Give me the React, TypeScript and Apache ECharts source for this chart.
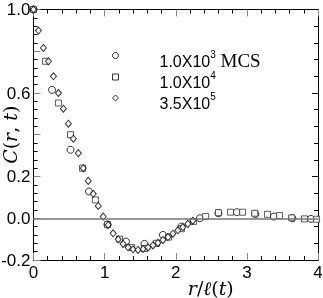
import React, { useEffect, useRef } from "react";
import * as echarts from "echarts";

// 1.0X10^3 MCS (circles)
const circleX = [0, 0.26, 0.52, 0.78, 1.04, 1.3, 1.56, 1.82, 2.08, 2.34, 2.6, 2.86, 3.12, 3.38, 3.64, 3.9];
const circleY = [1.0, 0.615, 0.328, 0.128, -0.03, -0.112, -0.123, -0.08, -0.04, 0.0, 0.024, 0.029, 0.02, 0.008, 0.0, -0.003];

// 1.0X10^4 (squares)
const squareX = [0, 0.17, 0.35, 0.52, 0.69, 0.87, 1.04, 1.21, 1.38, 1.56, 1.73, 1.9, 2.08, 2.25, 2.42, 2.6, 2.77, 2.94, 3.11, 3.29, 3.46, 3.63, 3.81, 3.98];
const squareY = [1.0, 0.752, 0.552, 0.4, 0.24, 0.088, -0.03, -0.1, -0.14, -0.145, -0.12, -0.09, -0.05, -0.015, 0.008, 0.027, 0.029, 0.029, 0.024, 0.019, 0.013, 0.002, -0.003, -0.005];

// 3.5X10^5 (diamonds)
const diamondX = [0, 0.07, 0.14, 0.21, 0.28, 0.35, 0.42, 0.49, 0.56, 0.63, 0.7, 0.77, 0.84, 0.91, 0.98, 1.05, 1.12, 1.19, 1.26, 1.33, 1.4, 1.47, 1.54, 1.61, 1.68, 1.75, 1.82, 1.89, 1.96, 2.03, 2.1, 2.17, 2.24];
const diamondY = [1.0, 0.899, 0.816, 0.752, 0.68, 0.6, 0.525, 0.453, 0.381, 0.312, 0.24, 0.179, 0.117, 0.059, 0.008, -0.032, -0.072, -0.101, -0.123, -0.139, -0.149, -0.152, -0.147, -0.14, -0.13, -0.118, -0.104, -0.09, -0.074, -0.058, -0.042, -0.027, -0.012];

const seriesNames = ["1.0X10³ MCS", "1.0X10⁴", "3.5X10⁵"];
const legendRich: Record<string, string> = {
  "1.0X10³ MCS": "{g|}{a|1.0X10}{s|3}{m| MCS}",
  "1.0X10⁴": "{g|}{a|1.0X10}{s|4}",
  "3.5X10⁵": "{g|}{a|3.5X10}{s|5}",
};
const yLabels = [1.0, 0.6, 0.2, 0.0, -0.2];

export default function App() {
  const ref = useRef<HTMLDivElement>(null);
  useEffect(() => {
    const chart = echarts.init(ref.current!, null, { renderer: "svg" });
    const pair = (xs: number[], ys: number[]) => xs.map((v, i) => [v, ys[i]]);
    const sans = "'Liberation Sans', Arial, sans-serif";
    const serif = "'DejaVu Serif', serif";
    const tickMajor = { inside: true, length: 7, lineStyle: { color: "#888", width: 1 } };
    const tickMinor = { show: true, length: 4, lineStyle: { color: "#000", width: 1 } };
    const line = { show: true, onZero: false, lineStyle: { color: "#000", width: 1 } };
    const mark = { color: "#fff", borderColor: "#000", borderWidth: 1 };
    chart.setOption({
      animation: false,
      grid: { left: 33.5, right: 5, top: 9.5, bottom: 38, containLabel: false, outerBoundsMode: "none" },
      legend: {
        orient: "vertical",
        left: 112,
        top: 41.5,
        itemWidth: 6,
        itemHeight: 6,
        itemGap: -6,
        padding: 0,
        itemStyle: { color: "#fff", borderColor: "#000", borderWidth: 1 },
        data: [
          { name: seriesNames[0], icon: "circle" },
          { name: seriesNames[1], icon: "rect" },
          { name: seriesNames[2], icon: "diamond" },
        ],
        formatter: (n: string) => legendRich[n],
        textStyle: {
          color: "#000",
          rich: {
            g: { width: 36 },
            a: { fontSize: 16, fontFamily: sans, color: "#000", lineHeight: 16, padding: [11, 0, 0, 0] },
            s: { fontSize: 10, fontFamily: sans, color: "#000", lineHeight: 10, padding: [0, 0, 3, 0] },
            m: { fontSize: 19, fontFamily: "'Liberation Serif', serif", color: "#000", lineHeight: 19, padding: [9, 0, 0, 0] },
          },
        },
      },
      xAxis: [
        {
          type: "value", min: 0, max: 4, interval: 1, position: "bottom",
          axisLine: line, axisTick: tickMajor, minorTick: { ...tickMinor, splitNumber: 5 },
          splitLine: { show: false }, minorSplitLine: { show: false },
          axisLabel: { color: "#000", fontSize: 17, fontFamily: sans, margin: 4 },
          name: "{i|r}{n|/}{i|ℓ}{n|(}{i|t}{n|)}",
          nameLocation: "middle", nameGap: 18, nameMoveOverlap: false,
          nameTextStyle: {
            padding: [0, 0, 0, 70],
            rich: {
              i: { fontFamily: serif, fontStyle: "italic", fontSize: 19, color: "#000" },
              n: { fontFamily: serif, fontSize: 19, color: "#000" },
            },
          },
        },
        {
          type: "value", min: 0, max: 4, interval: 1, position: "top",
          axisLine: line, axisTick: tickMajor, minorTick: { ...tickMinor, splitNumber: 5 },
          splitLine: { show: false }, axisLabel: { show: false },
        },
      ],
      yAxis: [
        {
          type: "value", min: -0.2, max: 1.0, interval: 0.2, position: "left",
          axisLine: line, axisTick: tickMajor, minorTick: { ...tickMinor, splitNumber: 5 },
          splitLine: { show: false }, minorSplitLine: { show: false },
          axisLabel: {
            color: "#000", fontSize: 17, fontFamily: sans, margin: 3,
            formatter: (v: number) => (yLabels.some((t) => Math.abs(t - v) < 1e-6) ? v.toFixed(1) : ""),
          },
          name: "{i|C}{n|(}{i|r}{n|, }{i|t}{n|)}",
          nameLocation: "middle", nameGap: 14, nameRotate: 90, nameMoveOverlap: false,
          nameTextStyle: {
            rich: {
              i: { fontFamily: serif, fontStyle: "italic", fontSize: 19, color: "#000" },
              n: { fontFamily: serif, fontSize: 19, color: "#000" },
            },
          },
        },
        {
          type: "value", min: -0.2, max: 1.0, interval: 0.4, position: "right",
          axisLine: line, axisTick: { ...tickMajor, length: 6, lineStyle: { color: "#000", width: 1 } },
          minorTick: { ...tickMinor, splitNumber: 5 },
          splitLine: { show: false }, axisLabel: { show: false },
        },
      ],
      series: [
        {
          type: "line", data: [], z: 1,
          markLine: {
            silent: true, symbol: "none", label: { show: false },
            lineStyle: { color: "#777", width: 1.5, type: "solid" },
            data: [{ yAxis: 0 }],
          },
        },
        {
          name: seriesNames[0], type: "scatter", symbol: "circle", symbolSize: 7, z: 3,
          itemStyle: mark, data: pair(circleX, circleY),
        },
        {
          name: seriesNames[1], type: "scatter", symbol: "rect", symbolSize: 6, z: 3,
          itemStyle: { ...mark, borderColor: "#333" }, data: pair(squareX, squareY),
        },
        {
          name: seriesNames[2], type: "scatter", symbol: "diamond", symbolSize: [6, 7], z: 3,
          itemStyle: mark, data: pair(diamondX, diamondY),
        },
      ],
    });
    return () => chart.dispose();
  }, []);
  return <div ref={ref} style={{ position: "fixed", left: 0, top: 0, width: 323, height: 298 }} />;
}
